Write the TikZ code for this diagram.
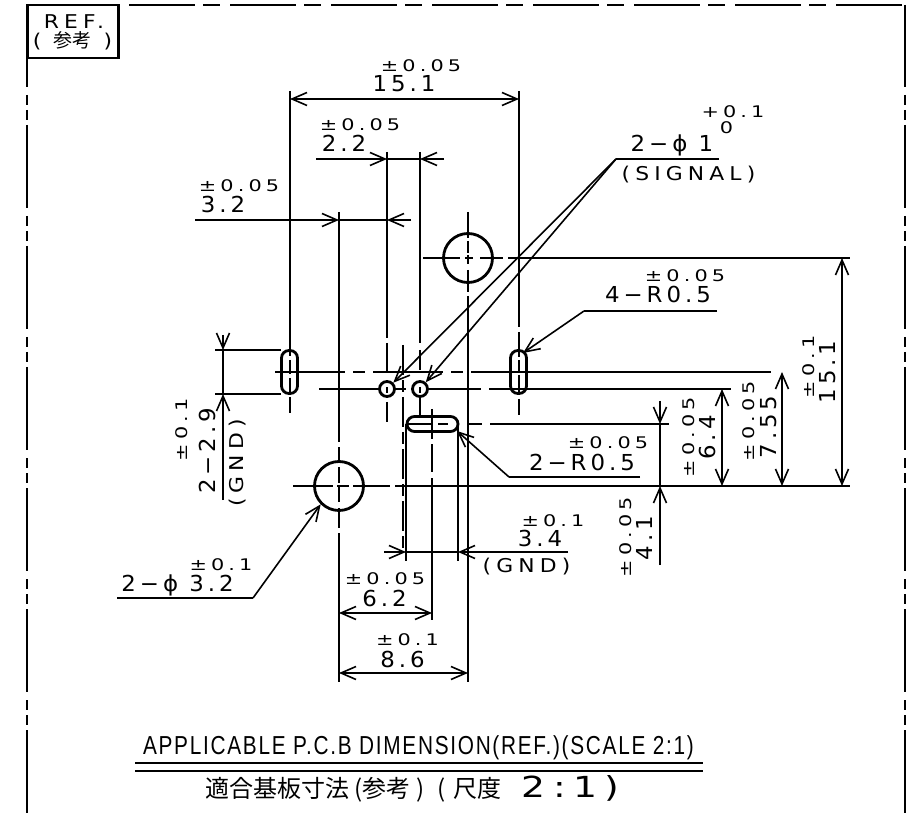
\documentclass[tikz,border=0pt]{standalone}
\usepackage{fontspec}
\usetikzlibrary{arrows.meta}
\newfontfamily\valfont[FakeStretch=1.04,LetterSpace=18]{DejaVu Sans}
\newfontfamily\tolfont[FakeStretch=1.3,LetterSpace=26]{DejaVu Sans}
\newfontfamily\capfont[FakeStretch=1.15,LetterSpace=27]{DejaVu Sans}
\newfontfamily\titlefont[FakeStretch=0.8,LetterSpace=6.6]{Liberation Sans}
\newfontfamily\cjk{Noto Sans CJK JP}
\tikzset{
  dimline/.style={line width=1.6pt},
  hole/.style={draw,circle,line width=2.8pt,inner sep=0pt},
  slot/.style={draw,rectangle,rounded corners=7.5pt,line width=2.8pt,inner sep=0pt},
  val/.style={inner sep=0pt,text height=16pt,text depth=0pt,font=\valfont\fontsize{22}{22}\selectfont},
  tol/.style={inner sep=0pt,text height=11.7pt,text depth=0pt,font=\tolfont\fontsize{16}{16}\selectfont},
  captext/.style={inner sep=0pt,text height=13.9pt,text depth=0pt,font=\capfont\fontsize{19}{19}\selectfont},
  >={Straight Barb[length=15pt,width=13pt]}
}
\begin{document}
\begin{tikzpicture}[x=1pt,y=-1pt]
  \useasboundingbox (0,0) rectangle (919,818);
  \coordinate (frameA) at (27,5);
  \coordinate (frameB) at (27,818);
  \coordinate (frameC) at (905,5);
  \coordinate (frameD) at (905,818);
  \coordinate (frameE) at (129,5);
  \draw[dimline,dash pattern=on 83pt off 8pt on 10pt off 5pt on 10pt off 5pt,dash phase=1pt] (frameA) -- (frameB);
  \draw[dimline,dash pattern=on 83pt off 8pt on 10pt off 5pt on 10pt off 5pt,dash phase=1pt] (frameC) -- (frameD);
  \draw[dimline,dash pattern=on 66pt off 8pt on 17pt off 10pt] (frameE) -- (frameC);
  \node[draw,line width=2.8pt,minimum width=91pt,minimum height=53pt,inner sep=0pt] (refbox) at (73,31.5) {};
  \node[captext] (reftext) at (74,21.5) {REF.};
  \node[captext] (refnote) at (72.5,41) {( {\cjk 参考} )};

  \node[hole,minimum size=49pt] (holeA) at (468,258) {};
  \node[hole,minimum size=49pt] (holeB) at (339,486) {};
  \node[hole,minimum size=15pt] (holeC) at (387,389) {};
  \node[hole,minimum size=15pt] (holeD) at (420,389) {};
  \node[slot,minimum width=16pt,minimum height=43pt] (slotA) at (289.5,372) {};
  \node[slot,minimum width=16pt,minimum height=43pt] (slotB) at (518.5,372) {};
  \node[slot,minimum width=51pt,minimum height=15pt] (slotC) at (432.5,424) {};

  \coordinate (lineAa) at (290,91);
  \coordinate (lineAb) at (290,413);
  \coordinate (lineBa) at (519,91);
  \coordinate (lineBb) at (519,415);
  \coordinate (lineCa) at (339,212);
  \coordinate (lineCb) at (339,682);
  \coordinate (lineDa) at (387,152);
  \coordinate (lineDb) at (387,422);
  \coordinate (lineEa) at (420,152);
  \coordinate (lineEb) at (420,417);
  \coordinate (lineFa) at (468,212);
  \coordinate (lineFb) at (468,682);
  \coordinate (lineGa) at (403,345);
  \coordinate (lineGb) at (403,548);
  \coordinate (lineHa) at (432,409);
  \coordinate (lineHb) at (432,620);
  \coordinate (lineIa) at (406,424);
  \coordinate (lineIb) at (406,561);
  \coordinate (lineJa) at (458,424);
  \coordinate (lineJb) at (458,561);
  \draw[dimline,dash pattern=on 265pt off 4pt on 14pt off 4pt on 15pt off 4pt on 16pt] (lineAa) -- (lineAb);
  \draw[dimline,dash pattern=on 236pt off 5pt on 25pt off 3pt on 12pt off 3pt on 20pt off 4pt on 16pt] (lineBa) -- (lineBb);
  \draw[dimline,dash pattern=on 230pt off 5pt on 13pt off 7pt on 16pt off 4pt on 15pt off 6pt on 20pt off 5pt on 200pt] (lineCa) -- (lineCb);
  \draw[dimline,dash pattern=on 186pt off 5pt on 30pt off 14pt on 6pt off 9pt on 20pt] (lineDa) -- (lineDb);
  \draw[dimline,dash pattern=on 191pt off 7pt on 20pt off 17pt on 6pt off 5pt on 19pt] (lineEa) -- (lineEb);
  \draw[dimline,dash pattern=on 26pt off 3pt on 12pt off 2pt on 9pt off 6pt on 22pt off 4pt on 500pt] (lineFa) -- (lineFb);
  \draw[dimline,dash pattern=on 30pt off 5pt on 12pt off 5pt] (lineGa) -- (lineGb);
  \draw[dimline,dash pattern=on 30pt off 5pt on 28pt off 6pt on 160pt] (lineHa) -- (lineHb);
  \draw[dimline] (lineIa) -- (lineIb);
  \draw[dimline] (lineJa) -- (lineJb);

  \coordinate (rowAa) at (423,258);
  \coordinate (rowAb) at (850,258);
  \coordinate (rowBa) at (275,372);
  \coordinate (rowBb) at (790,372);
  \coordinate (rowCa) at (319,389);
  \coordinate (rowCb) at (731,389);
  \coordinate (rowDa) at (407,424);
  \coordinate (rowDb) at (669,424);
  \coordinate (rowEa) at (293,486);
  \coordinate (rowEb) at (850,486);
  \coordinate (rowFa) at (215,350);
  \coordinate (rowFb) at (281,350);
  \coordinate (rowGa) at (215,394);
  \coordinate (rowGb) at (281,394);
  \draw[dimline,dash pattern=on 37pt off 5pt on 8pt off 7pt on 23pt off 5pt on 342pt] (rowAa) -- (rowAb);
  \draw[dimline,dash pattern=on 70pt off 8pt on 12pt off 8pt on 70pt off 8pt on 12pt off 8pt on 300pt] (rowBa) -- (rowBb);
  \draw[dimline,dash pattern=on 61pt off 16pt on 10pt off 23pt on 52pt off 8pt on 243pt] (rowCa) -- (rowCb);
  \draw[dimline,dash pattern=on 25pt off 6pt on 10pt off 19pt on 15pt off 8pt on 179pt] (rowDa) -- (rowDb);
  \draw[dimline,dash pattern=on 40pt off 4pt on 12pt off 4pt on 37pt off 5pt on 500pt] (rowEa) -- (rowEb);
  \draw[dimline] (rowFa) -- (rowFb);
  \draw[dimline] (rowGa) -- (rowGb);

  \coordinate (dimAa) at (290,99);
  \coordinate (dimAb) at (519,99);
  \draw[dimline,<->] (dimAa) -- (dimAb);
  \coordinate (dimBa) at (316,159);
  \coordinate (dimBb) at (387,159);
  \coordinate (dimBc) at (420,159);
  \coordinate (dimBd) at (444,159);
  \draw[dimline,->] (dimBa) -- (dimBb);
  \draw[dimline] (dimBb) -- (dimBc);
  \draw[dimline,->] (dimBd) -- (dimBc);
  \coordinate (dimCa) at (195,220);
  \coordinate (dimCb) at (339,220);
  \coordinate (dimCc) at (387,220);
  \coordinate (dimCd) at (411,220);
  \draw[dimline,->] (dimCa) -- (dimCb);
  \draw[dimline] (dimCb) -- (dimCc);
  \draw[dimline,->] (dimCd) -- (dimCc);
  \coordinate (dimDa) at (384,552);
  \coordinate (dimDb) at (406,552);
  \coordinate (dimDc) at (458,552);
  \coordinate (dimDd) at (568,552);
  \draw[dimline,->] (dimDa) -- (dimDb);
  \draw[dimline] (dimDb) -- (dimDc);
  \draw[dimline,->] (dimDd) -- (dimDc);
  \coordinate (dimEa) at (339,613);
  \coordinate (dimEb) at (432,613);
  \draw[dimline,<->] (dimEa) -- (dimEb);
  \coordinate (dimFa) at (339,673);
  \coordinate (dimFb) at (468,673);
  \draw[dimline,<->] (dimFa) -- (dimFb);
  \coordinate (dimGa) at (660,401);
  \coordinate (dimGb) at (660,424);
  \coordinate (dimGc) at (660,486);
  \coordinate (dimGd) at (660,565);
  \draw[dimline,->] (dimGa) -- (dimGb);
  \draw[dimline] (dimGb) -- (dimGc);
  \draw[dimline,->] (dimGd) -- (dimGc);
  \coordinate (dimHa) at (722,389);
  \coordinate (dimHb) at (722,486);
  \draw[dimline,<->] (dimHa) -- (dimHb);
  \coordinate (dimIa) at (782,372);
  \coordinate (dimIb) at (782,486);
  \draw[dimline,<->] (dimIa) -- (dimIb);
  \coordinate (dimJa) at (842,258);
  \coordinate (dimJb) at (842,486);
  \draw[dimline,<->] (dimJa) -- (dimJb);
  \coordinate (dimKa) at (223,335);
  \coordinate (dimKb) at (223,350);
  \coordinate (dimKc) at (223,394);
  \coordinate (dimKd) at (223,500);
  \draw[dimline,->] (dimKa) -- (dimKb);
  \draw[dimline] (dimKb) -- (dimKc);
  \draw[dimline,->] (dimKd) -- (dimKc);

  \coordinate (barAa) at (616,159);
  \coordinate (barAb) at (719,159);
  \draw[dimline] (barAb) -- (barAa);
  \draw[dimline,->] (barAa) -- (holeC);
  \draw[dimline,->] (barAa) -- (holeD);
  \coordinate (barBa) at (584,311);
  \coordinate (barBb) at (717,311);
  \coordinate (tipB) at (523,353);
  \draw[dimline] (barBb) -- (barBa);
  \draw[dimline,->] (barBa) -- (tipB);
  \coordinate (barCa) at (509,477);
  \coordinate (barCb) at (640,477);
  \coordinate (tipC) at (457,431);
  \draw[dimline] (barCb) -- (barCa);
  \draw[dimline,->] (barCa) -- (tipC);
  \coordinate (barDa) at (253,598);
  \coordinate (barDb) at (117,598);
  \draw[dimline] (barDb) -- (barDa);
  \draw[dimline,->] (barDa) -- (holeB.225);

  \node[tol] (tolA) at (421,65.5) {±0.05};
  \node[val] (valA) at (404,83.5) {15.1};
  \node[tol] (tolB) at (360,125) {±0.05};
  \node[val] (valB) at (344,144) {2.2};
  \node[tol] (tolC) at (239,185.5) {±0.05};
  \node[val] (valC) at (223,204.5) {3.2};
  \node[val] (valD) at (672,144) {2−ϕ 1};
  \node[tol] (tolD) at (733,111.5) {+0.1};
  \node[tol] (tolE) at (726.5,128) {0};
  \node[captext] (noteA) at (688.5,174) {(SIGNAL)};
  \node[tol] (tolF) at (685,276) {±0.05};
  \node[val] (valE) at (658,295) {4−R0.5};
  \node[tol] (tolG) at (608,443) {±0.05};
  \node[val] (valF) at (582,462.5) {2−R0.5};
  \node[tol] (tolH) at (553,520.5) {±0.1};
  \node[val] (valG) at (540,538) {3.4};
  \node[captext] (noteB) at (526.5,565.5) {(GND)};
  \node[tol] (tolI) at (385,578.5) {±0.05};
  \node[val] (valH) at (384.5,598) {6.2};
  \node[tol] (tolJ) at (407.5,639.5) {±0.1};
  \node[val] (valI) at (402.5,659) {8.6};
  \node[val] (valJ) at (177.5,583) {2−ϕ 3.2};
  \node[tol] (tolK) at (221,565) {±0.1};

  \node[tol,rotate=90] (tolL) at (626,537) {±0.05};
  \node[val,rotate=90] (valK) at (644.5,538) {4.1};
  \node[tol,rotate=90] (tolM) at (688.5,437) {±0.05};
  \node[val,rotate=90] (valL) at (707,437.5) {6.4};
  \node[tol,rotate=90] (tolN) at (749,421) {±0.05};
  \node[val,rotate=90] (valM) at (768,427) {7.55};
  \node[tol,rotate=90] (tolO) at (809,367) {±0.1};
  \node[val,rotate=90] (valN) at (827,372) {15.1};
  \node[tol,rotate=90] (tolP) at (182,430) {±0.1};
  \node[val,rotate=90] (valO) at (207,451) {2−2.9};
  \node[captext,rotate=90] (noteC) at (236.5,463) {(GND)};

  \coordinate (ruleAa) at (135,763);
  \coordinate (ruleAb) at (703,763);
  \coordinate (ruleBa) at (135,771);
  \coordinate (ruleBb) at (703,771);
  \draw[dimline] (ruleAa) -- (ruleAb);
  \draw[dimline] (ruleBa) -- (ruleBb);
  \node[inner sep=0pt,font=\titlefont\fontsize{26}{26}\selectfont] (titleA) at (418.5,748) {APPLICABLE P.C.B DIMENSION(REF.)(SCALE 2:1)};
  \node[inner sep=0pt,anchor=west,font=\cjk\fontsize{24}{24}\selectfont] (titleB) at (205,789) {適合基板寸法\hspace*{5pt}(参考\hspace*{6pt})\hspace*{13pt}(\hspace*{8pt}尺度\hspace*{20pt}{\tolfont\fontsize{29}{29}\selectfont 2:1)}};
\end{tikzpicture}
\end{document}
